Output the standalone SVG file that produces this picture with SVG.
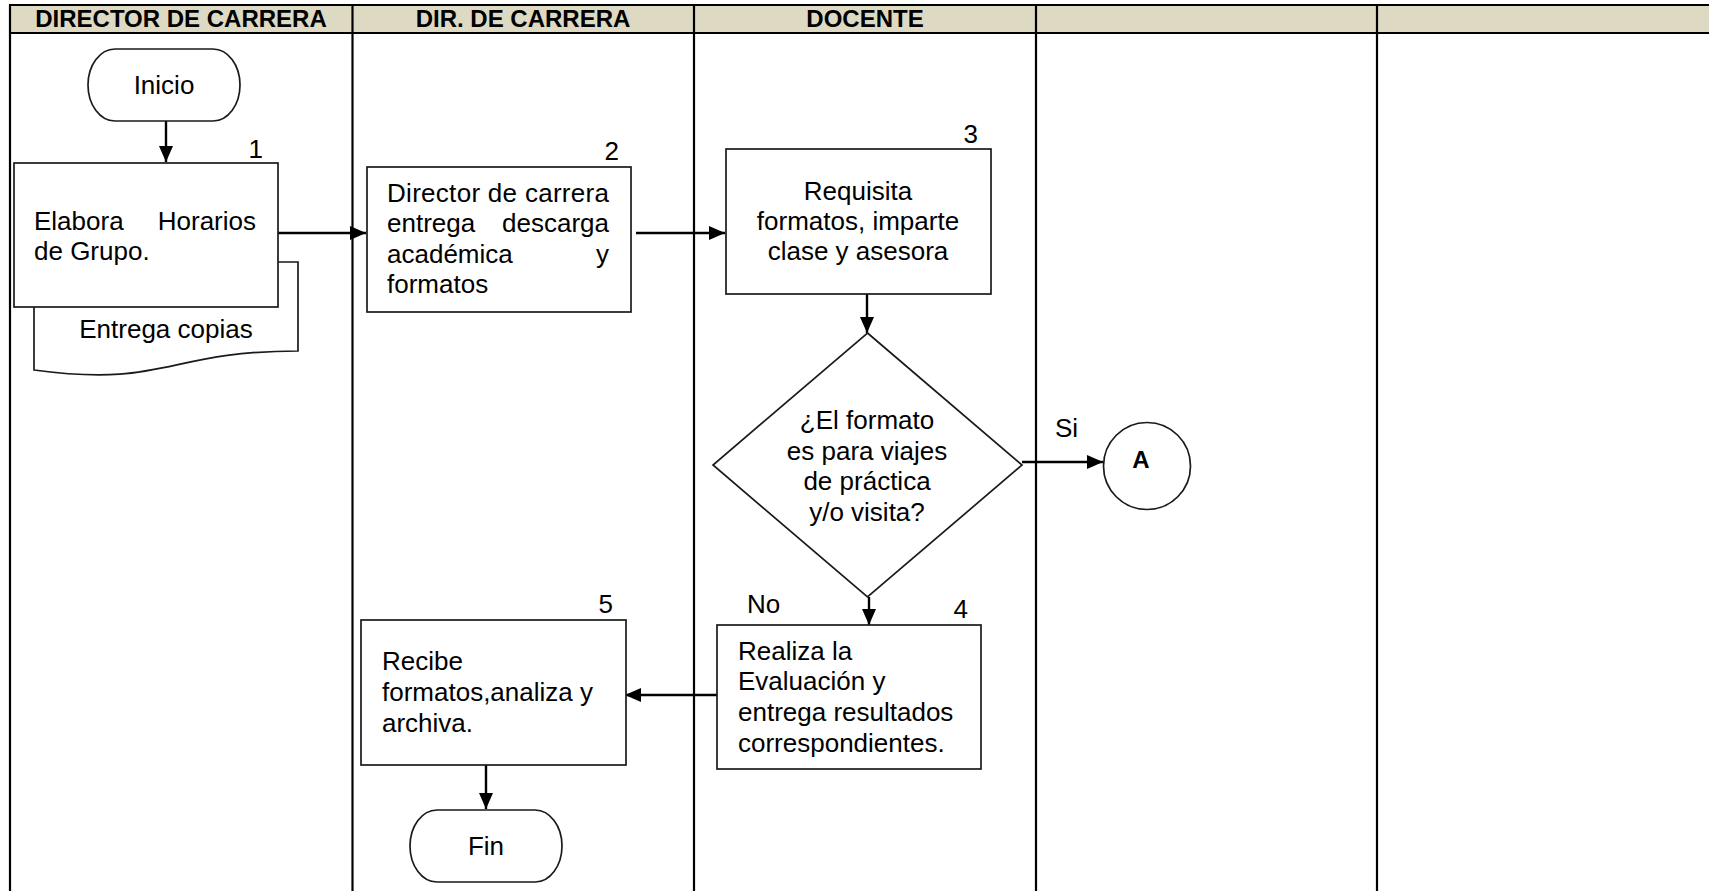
<svg xmlns="http://www.w3.org/2000/svg" width="1709" height="891" viewBox="0 0 1709 891">
<defs>
<style>
.t{font-family:"Liberation Sans",Arial,sans-serif;font-size:26px;fill:#000}
.h{font-family:"Liberation Sans",Arial,sans-serif;font-size:24px;font-weight:bold;fill:#000}
.b{font-family:"Liberation Sans",Arial,sans-serif;font-size:24px;font-weight:bold;fill:#000}
.shape{fill:#fff;stroke:#1a1a1a;stroke-width:1.7}
.grid{stroke:#000;stroke-width:2.2;fill:none}
.conn{stroke:#000;stroke-width:2.4;fill:none;marker-end:url(#arr)}
</style>
<marker id="arr" markerUnits="userSpaceOnUse" markerWidth="17" markerHeight="15" refX="16" refY="7" orient="auto">
<path d="M0,0 L16,7 L0,14 Z" fill="#000"/>
</marker>
</defs>
<rect width="1709" height="891" fill="#fff"/>

<g id="table">
<rect x="10" y="5" width="1720" height="28" fill="#DDD9C3"/>
<line class="grid" x1="9" y1="5" x2="1720" y2="5" stroke-width="2.8"/>
<line class="grid" x1="9" y1="33" x2="1720" y2="33" stroke-width="3"/>
<line class="grid" x1="10" y1="4" x2="10" y2="900"/>
<line class="grid" x1="352.5" y1="4" x2="352.5" y2="900"/>
<line class="grid" x1="694" y1="4" x2="694" y2="900"/>
<line class="grid" x1="1036" y1="4" x2="1036" y2="900"/>
<line class="grid" x1="1377" y1="4" x2="1377" y2="900"/>
<text class="h" x="181" y="27" text-anchor="middle">DIRECTOR DE CARRERA</text>
<text class="h" x="523" y="27" text-anchor="middle">DIR. DE CARRERA</text>
<text class="h" x="865" y="27" text-anchor="middle">DOCENTE</text>
</g>

<g id="connectors">
<line class="conn" x1="166" y1="121" x2="166" y2="162"/>
<line class="conn" x1="278" y1="233" x2="366" y2="233"/>
<line class="conn" x1="636" y1="233" x2="725" y2="233"/>
<line class="conn" x1="867" y1="294" x2="867" y2="333"/>
<line class="conn" x1="1022" y1="462" x2="1103" y2="462"/>
<line class="conn" x1="869" y1="597" x2="869" y2="625"/>
<line class="conn" x1="717" y1="695" x2="625" y2="695"/>
<line class="conn" x1="486" y1="765" x2="486" y2="809"/>
<text class="t" x="1055" y="437">Si</text>
<text class="t" x="747" y="613">No</text>
</g>

<g id="inicio">
<path class="shape" d="M115,49 H213 A27,36 0 0 1 213,121 H115 A27,36 0 0 1 115,49 Z"/>
<text class="t" x="164" y="94" text-anchor="middle">Inicio</text>
</g>

<g id="doc1">
<path class="shape" d="M34,262 H298 V351 C166,351 166,388 34,370 Z"/>
<text class="t" x="166" y="338" text-anchor="middle">Entrega copias</text>
</g>

<g id="step1">
<rect class="shape" x="14" y="163" width="264" height="144"/>
<text class="t" x="263" y="158" text-anchor="end">1</text>
<text class="t" x="34" y="230">Elabora</text>
<text class="t" x="256" y="230" text-anchor="end">Horarios</text>
<text class="t" x="34" y="260">de Grupo.</text>
</g>

<g id="step2">
<rect class="shape" x="367" y="167" width="264" height="145"/>
<text class="t" x="619" y="160" text-anchor="end">2</text>
<text class="t" x="387" y="202" textLength="222" lengthAdjust="spacing">Director de carrera</text>
<text class="t" x="387" y="232">entrega</text>
<text class="t" x="609" y="232" text-anchor="end">descarga</text>
<text class="t" x="387" y="263">académica</text>
<text class="t" x="609" y="263" text-anchor="end">y</text>
<text class="t" x="387" y="293">formatos</text>
</g>

<g id="step3">
<rect class="shape" x="726" y="149" width="265" height="145"/>
<text class="t" x="978" y="143" text-anchor="end">3</text>
<text class="t" x="858" y="200" text-anchor="middle">Requisita</text>
<text class="t" x="858" y="230" text-anchor="middle">formatos, imparte</text>
<text class="t" x="858" y="260" text-anchor="middle">clase y asesora</text>
</g>

<g id="decision">
<path class="shape" d="M867.5,333 L1022,465 L867.5,597 L713,465 Z"/>
<text class="t" x="867" y="429" text-anchor="middle">¿El formato</text>
<text class="t" x="867" y="460" text-anchor="middle">es para viajes</text>
<text class="t" x="867" y="490" text-anchor="middle">de práctica</text>
<text class="t" x="867" y="521" text-anchor="middle">y/o visita?</text>
</g>

<g id="connA">
<circle class="shape" cx="1147" cy="466" r="43.5"/>
<text class="b" x="1141" y="468" text-anchor="middle">A</text>
</g>

<g id="step4">
<rect class="shape" x="717" y="625" width="264" height="144"/>
<text class="t" x="968" y="618" text-anchor="end">4</text>
<text class="t" x="738" y="660">Realiza la</text>
<text class="t" x="738" y="690">Evaluación y</text>
<text class="t" x="738" y="721">entrega resultados</text>
<text class="t" x="738" y="752">correspondientes.</text>
</g>

<g id="step5">
<rect class="shape" x="361" y="620" width="265" height="145"/>
<text class="t" x="613" y="613" text-anchor="end">5</text>
<text class="t" x="382" y="670">Recibe</text>
<text class="t" x="382" y="701">formatos,analiza y</text>
<text class="t" x="382" y="732">archiva.</text>
</g>

<g id="fin">
<path class="shape" d="M437,810 H535 A27,36 0 0 1 535,882 H437 A27,36 0 0 1 437,810 Z"/>
<text class="t" x="486" y="855" text-anchor="middle">Fin</text>
</g>
</svg>
